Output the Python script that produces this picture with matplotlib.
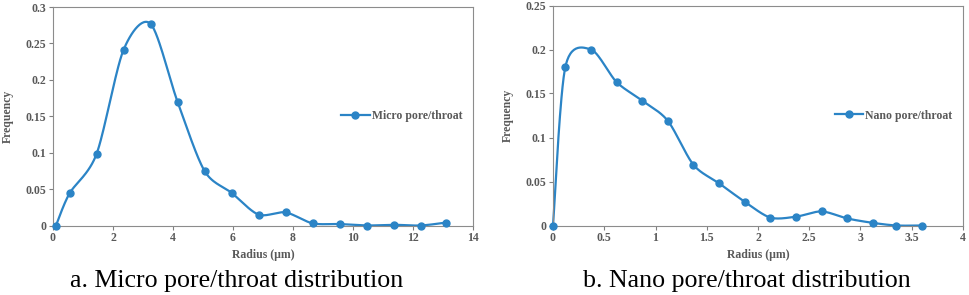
import numpy as np
import matplotlib
matplotlib.use("Agg")
import matplotlib.pyplot as plt

micro_r = [0.1, 0.55, 1.45, 2.35, 3.25, 4.15, 5.05, 5.95, 6.85, 7.75, 8.65, 9.55, 10.45, 11.35, 12.25, 13.1]
micro_f = [0.0, 0.044, 0.098, 0.241, 0.277, 0.170, 0.075, 0.045, 0.015, 0.018, 0.003, 0.002, 0.0, 0.001, 0.0, 0.004]

nano_r = [0.0, 0.12, 0.37, 0.62, 0.87, 1.12, 1.37, 1.62, 1.87, 2.12, 2.37, 2.62, 2.87, 3.12, 3.35, 3.6]
nano_f = [0.0, 0.180, 0.200, 0.163, 0.142, 0.119, 0.069, 0.048, 0.027, 0.009, 0.010, 0.016, 0.008, 0.003, 0.0, 0.0]

BLUE = "#2b84c6"
GRAY = "#595959"
plt.rcParams["font.family"] = ["Liberation Serif", "DejaVu Serif"]


def smooth(x, y, n=30, k=7.0):
    # Excel-like smoothed line: cubic Bezier with Catmull-Rom tangents
    x = np.asarray(x, float)
    y = np.asarray(y, float)
    px, py = [], []
    t = np.linspace(0, 1, n)
    for i in range(len(x) - 1):
        i0, i3 = max(i - 1, 0), min(i + 2, len(x) - 1)
        c1x = x[i] + (x[i + 1] - x[i0]) / k
        c1y = y[i] + (y[i + 1] - y[i0]) / k
        c2x = x[i + 1] - (x[i3] - x[i]) / k
        c2y = y[i + 1] - (y[i3] - y[i]) / k
        bx = (1 - t) ** 3 * x[i] + 3 * (1 - t) ** 2 * t * c1x + 3 * (1 - t) * t ** 2 * c2x + t ** 3 * x[i + 1]
        by = (1 - t) ** 3 * y[i] + 3 * (1 - t) ** 2 * t * c1y + 3 * (1 - t) * t ** 2 * c2y + t ** 3 * y[i + 1]
        px.extend(bx)
        py.extend(by)
    return px, py


def panel(ax, r, f, xmax, xstep, ymax, ystep, label):
    sx, sy = smooth(r, f)
    ax.plot(sx, sy, color=BLUE, lw=1.6, zorder=2, clip_on=False)
    ax.plot(r, f, "o", color=BLUE, ms=5, zorder=3, clip_on=False)
    ax.plot([], [], "-o", color=BLUE, lw=1.6, ms=5, label=label)
    ax.set_xlim(0, xmax)
    ax.set_ylim(0, ymax)
    ax.set_xticks(np.arange(0, xmax + 1e-9, xstep))
    ax.set_yticks(np.arange(0, ymax + 1e-9, ystep))
    ax.xaxis.set_major_formatter(matplotlib.ticker.FormatStrFormatter("%g"))
    ax.yaxis.set_major_formatter(matplotlib.ticker.FormatStrFormatter("%g"))
    ax.tick_params(labelsize=8.5, labelcolor=GRAY, color="#808080", length=3, width=0.8,
                   direction="out", pad=2)
    for t in ax.get_xticklabels() + ax.get_yticklabels():
        t.set_fontweight("bold")
    for s in ax.spines.values():
        s.set_color("#8c8c8c")
        s.set_linewidth(0.8)
    ax.set_xlabel("Radius (μm)", fontsize=8.5, color=GRAY, fontweight="bold", labelpad=3)
    ax.set_ylabel("Frequency", fontsize=8.5, color=GRAY, fontweight="bold", labelpad=8)
    leg = ax.legend(loc="center right", bbox_to_anchor=(1.0, 0.5), frameon=False,
                    prop={"size": 8.5, "weight": "bold"}, handlelength=2.4, handletextpad=0.2)
    for t in leg.get_texts():
        t.set_color(GRAY)


fig = plt.figure(figsize=(9.69, 2.95), dpi=100)
ax1 = fig.add_axes([53 / 969, 1 - 225.5 / 295, 420 / 969, 218.5 / 295])
ax2 = fig.add_axes([553 / 969, 1 - 225.5 / 295, 410 / 969, 220 / 295])

panel(ax1, micro_r, micro_f, 14, 2, 0.3, 0.05, "Micro pore/throat")
panel(ax2, nano_r, nano_f, 4, 0.5, 0.25, 0.05, "Nano pore/throat")

fig.text(237 / 969, 1 - 281 / 295, "a. Micro pore/throat distribution", fontsize=18.6,
         ha="center", va="center")
fig.text(747 / 969, 1 - 281 / 295, "b. Nano pore/throat distribution", fontsize=18.6,
         ha="center", va="center")

fig.savefig("out.png", dpi=100)
